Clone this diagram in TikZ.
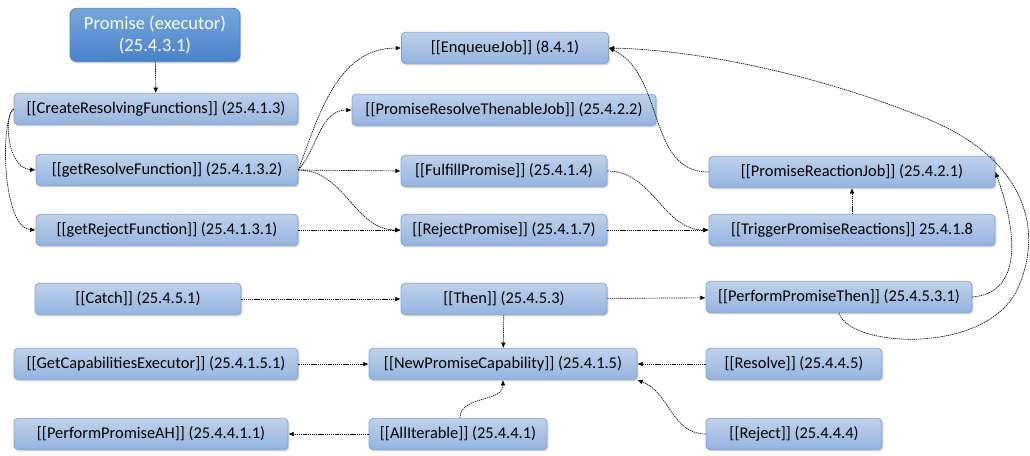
\documentclass[tikz,border=0pt]{standalone}
\usepackage{fontspec}
\setmainfont{Carlito}
\usetikzlibrary{arrows.meta,shadows}
\definecolor{boxtop}{HTML}{BFD2EC}
\definecolor{boxbot}{HTML}{93B3DE}
\definecolor{boxline}{HTML}{7FA3D5}
\definecolor{headtop}{HTML}{76A6DE}
\definecolor{headbot}{HTML}{4A81C8}
\begin{document}
\begin{tikzpicture}[
    x=0.75pt, y=-0.75pt,
    box/.style={draw=boxline, line width=0.6pt, rounded corners=3pt,
      top color=boxtop, bottom color=boxbot,
      drop shadow={shadow xshift=1pt, shadow yshift=-1.2pt, opacity=0.3},
      minimum height=23.5pt, inner sep=0pt, font=\fontsize{12.3}{14}\selectfont},
    head/.style={box, top color=headtop, bottom color=headbot, draw=headbot,
      text=white, minimum height=40pt, rounded corners=5pt, align=center,
      font=\fontsize{13.9}{16}\selectfont},
    wd/.style={minimum width=#1*0.75pt},
    call/.style={-{Latex[length=4pt,width=3.5pt]}, dash pattern=on 1pt off 0.6pt,
      line width=0.5pt},
  ]
  \useasboundingbox (0,0) rectangle (1030,455);

  % left column
  \node[head, wd=170] (promise) at (155,35) {Promise (executor)\\(25.4.3.1)};
  \node[box, wd=284] (create) at (156,109) {[[CreateResolvingFunctions]] (25.4.1.3)};
  \node[box, wd=262] (resolvefn) at (167,170) {[[getResolveFunction]] (25.4.1.3.2)};
  \node[box, wd=262] (rejectfn) at (167,230) {[[getRejectFunction]] (25.4.1.3.1)};
  \node[box, wd=206] (catch) at (138,299) {[[Catch]] (25.4.5.1)};
  \node[box, wd=284] (getcap) at (156,364) {[[GetCapabilitiesExecutor]] (25.4.1.5.1)};
  \node[box, wd=274] (perfah) at (151,434) {[[PerformPromiseAH]] (25.4.4.1.1)};

  % middle column
  \node[box, wd=207] (enqueue) at (505,48) {[[EnqueueJob]] (8.4.1)};
  \node[box, wd=304] (thenable) at (504,110) {[[PromiseResolveThenableJob]] (25.4.2.2)};
  \node[box, wd=206] (fulfill) at (504,171) {[[FulfillPromise]] (25.4.1.4)};
  \node[box, wd=206] (rejectp) at (504,230) {[[RejectPromise]] (25.4.1.7)};
  \node[box, wd=206] (then) at (504,299) {[[Then]] (25.4.5.3)};
  \node[box, wd=268] (newcap) at (503,364) {[[NewPromiseCapability]] (25.4.1.5)};
  \node[box, wd=178] (alliter) at (458,434) {[[AllIterable]] (25.4.4.1)};

  % right column
  \node[box, wd=286] (reaction) at (852,172) {[[PromiseReactionJob]] (25.4.2.1)};
  \node[box, wd=286] (trigger) at (852,230) {[[TriggerPromiseReactions]] 25.4.1.8};
  \node[box, wd=266] (perfthen) at (839,297) {[[PerformPromiseThen]] (25.4.5.3.1)};
  \node[box, wd=176] (resolve) at (794,364) {[[Resolve]] (25.4.4.5)};
  \node[box, wd=176] (reject) at (794,434) {[[Reject]] (25.4.4.4)};

  % calls
  \draw[call] (promise) -- (create);
  \draw[call] (create.west) .. controls (4,114) and (6,168) .. (resolvefn.west);
  \draw[call] (create.west) .. controls (0,120) and (2,228) .. (rejectfn.west);
  \draw[call] (resolvefn.east) to[out=70,in=180] (enqueue.west);
  \draw[call] (resolvefn.east) to[out=50,in=180] (thenable.west);
  \draw[call] (resolvefn.east) -- (fulfill.west);
  \draw[call] (resolvefn.east) to[out=0,in=180] (rejectp.west);
  \draw[call] (rejectfn) -- (rejectp);
  \draw[call] (fulfill.east) to[out=0,in=180] (trigger.west);
  \draw[call] (rejectp) -- (trigger);
  \draw[call] (trigger) -- (reaction);
  \draw[call] (reaction.west) to[out=180,in=-25] (enqueue.east);
  \draw[call] (perfthen.east) to[out=5,in=-70,looseness=1.1] (reaction.east);
  \draw[call] (perfthen.south) .. controls (850,348) and (985,355) .. (1017,290)
    .. controls (1045,230) and (1025,160) .. (930,120)
    .. controls (820,75) and (700,50) .. (enqueue.east);
  \draw[call] (catch) -- (then);
  \draw[call] (then) -- (perfthen);
  \draw[call] (then) -- (newcap);
  \draw[call] (getcap) -- (newcap);
  \draw[call] (resolve) -- (newcap);
  \draw[call] (reject.west) to[out=180,in=-20] (newcap.south east);
  \draw[call] (alliter.north) ++(2,0) to[out=90,in=-90] (newcap.south);
  \draw[call] (alliter) -- (perfah);
\end{tikzpicture}
\end{document}
